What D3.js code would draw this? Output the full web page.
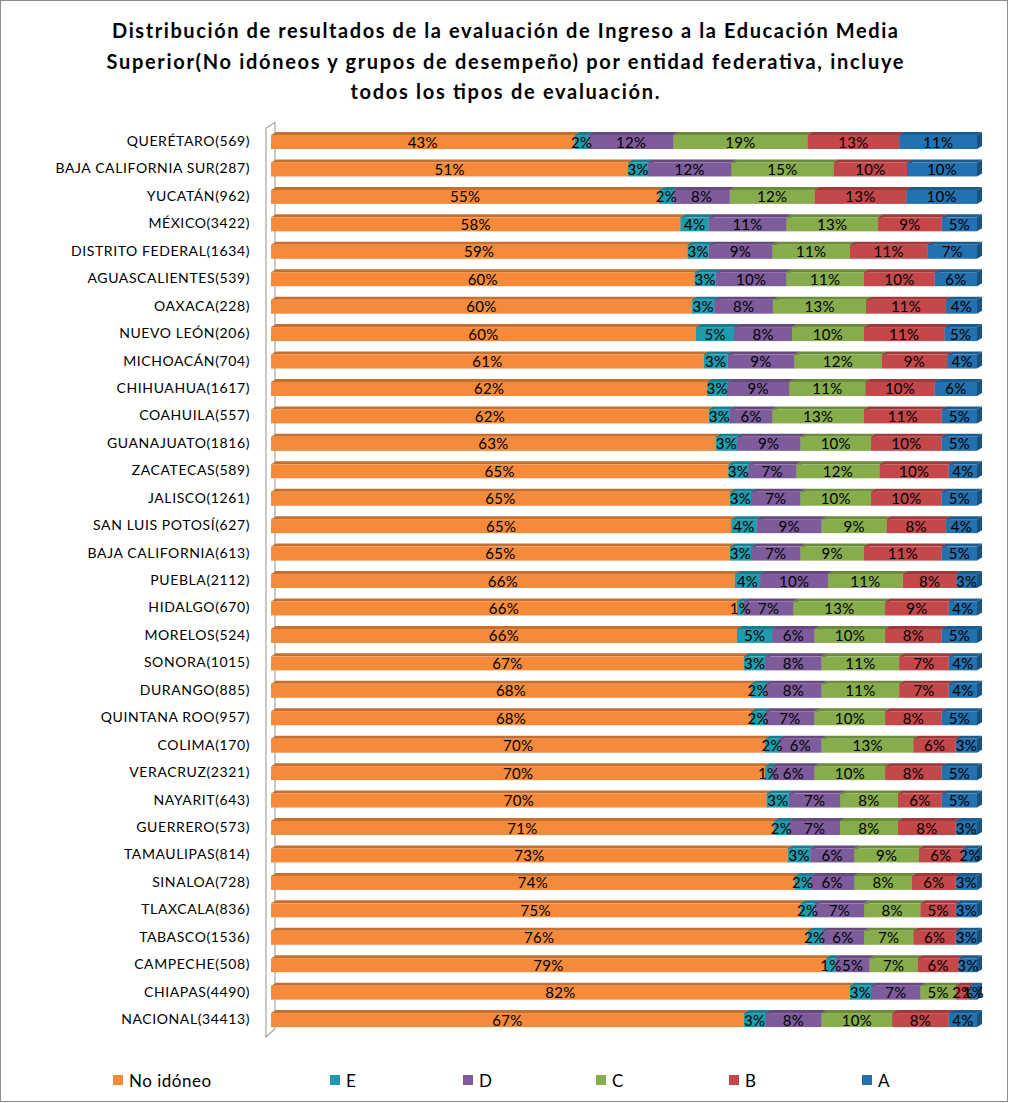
<!DOCTYPE html>
<html>
<head>
<meta charset="utf-8">
<script src="https://cdn.jsdelivr.net/npm/d3@7"></script>
<style>
  body { margin: 0; background: #fff; }
  svg { display: block; font-family: Lato, "Open Sans", sans-serif; }
</style>
</head>
<body>
<div id="chart"></div>
<script>
// categories (top to bottom)
const entidades = [
  "QUERÉTARO(569)", "BAJA CALIFORNIA SUR(287)", "YUCATÁN(962)", "MÉXICO(3422)",
  "DISTRITO FEDERAL(1634)", "AGUASCALIENTES(539)", "OAXACA(228)", "NUEVO LEÓN(206)",
  "MICHOACÁN(704)", "CHIHUAHUA(1617)", "COAHUILA(557)", "GUANAJUATO(1816)",
  "ZACATECAS(589)", "JALISCO(1261)", "SAN LUIS POTOSÍ(627)", "BAJA CALIFORNIA(613)",
  "PUEBLA(2112)", "HIDALGO(670)", "MORELOS(524)", "SONORA(1015)", "DURANGO(885)",
  "QUINTANA ROO(957)", "COLIMA(170)", "VERACRUZ(2321)", "NAYARIT(643)",
  "GUERRERO(573)", "TAMAULIPAS(814)", "SINALOA(728)", "TLAXCALA(836)",
  "TABASCO(1536)", "CAMPECHE(508)", "CHIAPAS(4490)", "NACIONAL(34413)"
];

const grupos = ["No idóneo", "E", "D", "C", "B", "A"];
const colores = ["#F58A3A", "#1F9BAE", "#7E5C9C", "#86AC4B", "#C4474A", "#2371AE"];

// percentages per group, same order as entidades
const noIdoneo = [43, 50.6, 55, 58, 59, 60, 59.6, 60.2, 61.3, 61.8, 62, 63, 64.8, 65, 65.2, 65,
  65.7, 66, 66, 67, 68, 68, 70, 70, 70.2, 71.2, 73.2, 74.2, 75, 76, 78.6, 82, 67];
const grupoE = [2, 2.8, 2, 4, 3, 3, 3.2, 5.4, 3.4, 2.8, 3, 3, 2.8, 3, 3.6, 3,
  3.6, 1, 5, 3, 2, 2, 2, 1, 3.2, 2.2, 3.2, 2.2, 2, 2, 1.4, 3, 3];
const grupoD = [12, 11.8, 8, 11, 9, 10, 8.3, 8.2, 9.4, 8.8, 6, 9, 6.8, 7, 9.2, 7,
  9.6, 7, 6, 8, 8, 7, 6, 6, 7.2, 7.2, 6.2, 6.2, 7, 6, 4.8, 7, 8];
const grupoC = [19, 14.5, 12, 13, 11, 11, 13.2, 10.2, 12.4, 10.8, 13, 10, 11.8, 10, 9.2, 9,
  10.6, 13, 10, 11, 11, 10, 13, 10, 8.2, 8.2, 9.2, 8.2, 8, 7, 6.8, 5, 10];
const grupoB = [13, 10.4, 13, 9, 11, 10, 11.3, 11.4, 9.3, 9.8, 11, 10, 9.8, 10, 8.4, 11,
  7.6, 9, 8, 7, 7, 8, 6, 8, 6.2, 8.2, 6.2, 6.2, 5, 6, 5.8, 2, 8];
const grupoA = [11, 9.9, 10, 5, 7, 6, 4.4, 4.6, 4.2, 6, 5, 5, 4, 5, 4.4, 5,
  2.9, 4, 5, 4, 4, 5, 3, 5, 5, 3, 2, 3, 3, 3, 2.6, 1, 4];

const series = [noIdoneo, grupoE, grupoD, grupoC, grupoB, grupoA];

const W = 1009, H = 1103;
const plotLeft = 271, plotRight = 977;
const depthX = 5, depthY = 3;
const faceH = 14;

const rows = entidades.map((e, i) => {
  const r = { entidad: e };
  grupos.forEach((g, j) => r[g] = series[j][i]);
  return r;
});

const stacked = d3.stack().keys(grupos).offset(d3.stackOffsetExpand)(rows);

const x = d3.scaleLinear().domain([0, 1]).range([plotLeft, plotRight]);
const y = d3.scalePoint().domain(entidades).range([127.3, 1032.8]).padding(0.5);
const color = d3.scaleOrdinal().domain(grupos).range(colores);

const svg = d3.select("#chart").append("svg")
  .attr("width", W).attr("height", H);

svg.append("rect")
  .attr("x", 0.5).attr("y", 0.5)
  .attr("width", W - 2).attr("height", H - 2)
  .attr("fill", "#fff").attr("stroke", "#8c8c8c");

// title
const title = [
  "Distribución de resultados de la evaluación de Ingreso a la Educación Media",
  "Superior(No idóneos y grupos de desempeño) por entidad federativa, incluye",
  "todos los tipos de evaluación."
];
const titleWidths = [786, 797, 309];
svg.append("g").selectAll("text").data(title).join("text")
  .attr("x", 505).attr("y", (d, i) => 38 + i * 30.5)
  .attr("text-anchor", "middle")
  .attr("font-size", 20).attr("font-weight", "bold")
  .attr("textLength", (d, i) => titleWidths[i])
  .attr("lengthAdjust", "spacing")
  .text(d => d);

// 3d wall
const wall = svg.append("g").attr("stroke", "#a6a6a6").attr("fill", "none").attr("stroke-width", 1.2);
const wTop = y.range()[0], wBot = y.range()[1] + 4;
wall.append("path")
  .attr("d", `M${plotLeft - 5},${wTop + 1}L${plotLeft - 5},${wBot}L${plotLeft + 4},${wBot - 8}`);
wall.append("path")
  .attr("d", `M${plotLeft - 5},${wTop + 1}L${plotLeft + 4},${wTop - 5}L${plotLeft + 4},${wBot - 8}`);

// category axis
const yAxis = d3.axisLeft(y).tickSize(0).tickPadding(0);
svg.append("g")
  .attr("transform", `translate(250,0)`)
  .call(yAxis)
  .call(g => g.select(".domain").remove())
  .selectAll("text")
  .attr("font-family", "Lato, sans-serif")
  .attr("font-size", 14)
  .attr("fill", "#000")
  .attr("letter-spacing", 0.6);

// bars
const layer = svg.append("g").selectAll("g").data(stacked).join("g");

layer.each(function(s) {
  const c = d3.color(color(s.key));
  const g = d3.select(this);
  s.forEach(d => {
    const cy = y(d.data.entidad);
    const x0 = x(d[0]), x1 = x(d[1]);
    const yt = cy - faceH / 2 + 1, yb = cy + faceH / 2 + 1;
    g.append("path")
      .attr("d", `M${x0},${yt}L${x1},${yt}L${x1 + depthX},${yt - depthY}L${x0 + depthX},${yt - depthY}Z`)
      .attr("fill", c.darker(0.6));
    g.append("path")
      .attr("d", `M${x1},${yt}L${x1 + depthX},${yt - depthY}L${x1 + depthX},${yb - depthY}L${x1},${yb}Z`)
      .attr("fill", c.darker(0.9));
    g.append("rect")
      .attr("x", x0).attr("y", yt)
      .attr("width", x1 - x0).attr("height", yb - yt)
      .attr("fill", c);
  });
});

// data labels, on top of every bar
const labels = svg.append("g").selectAll("g").data(stacked).join("g");
labels.each(function(s) {
  const j = grupos.indexOf(s.key);
  d3.select(this).selectAll("text").data(s).join("text")
    .attr("x", d => (x(d[0]) + x(d[1])) / 2)
    .attr("y", d => y(d.data.entidad) + 6.5)
    .attr("text-anchor", "middle")
    .attr("font-size", 15)
    .attr("letter-spacing", 0.3)
    .attr("fill", "#000")
    .text((d, i) => Math.round(series[j][i]) + "%");
});

// legend
const legend = svg.append("g").selectAll("g").data(grupos).join("g")
  .attr("transform", (d, i) => `translate(${i === 0 ? 113 : 330 + (i - 1) * 133},1075)`);
legend.append("rect")
  .attr("width", 10).attr("height", 10)
  .attr("fill", d => color(d));
legend.append("text")
  .attr("x", 16).attr("y", 12)
  .attr("font-size", 17)
  .attr("letter-spacing", 0.5)
  .text(d => d);
</script>
</body>
</html>
